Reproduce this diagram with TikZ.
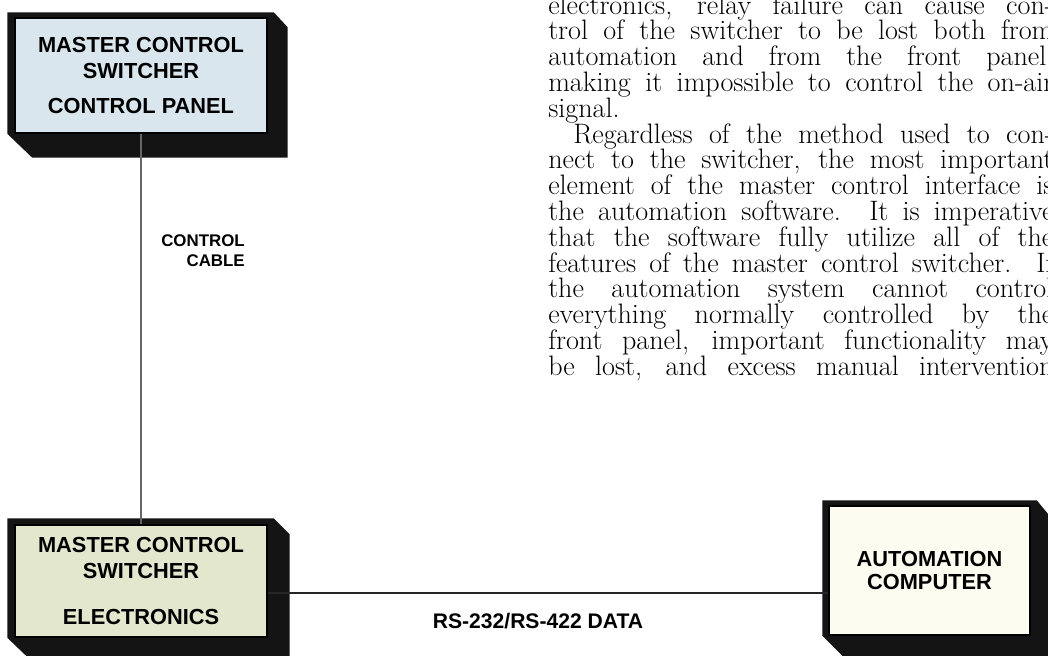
\documentclass[tikz,border=0pt]{standalone}
\usepackage{fontspec}
\newfontfamily\labelfont{Liberation Sans}
\usetikzlibrary{calc, backgrounds}

\begin{document}
\begin{tikzpicture}[x=0.025cm, y=-0.025cm]
      % Styles
      \tikzset{
        facebox/.style={draw=black, line width=1pt, minimum width=6.3cm, inner sep=0pt, align=center,
          font=\labelfont\bfseries\fontsize{15.5}{18.5}\selectfont},
        slab/.style={fill=black!92},
        cable/.style={draw=black!75, line width=1.1pt},
        cablelabel/.style={inner sep=0pt, font=\labelfont\bfseries\fontsize{12}{14}\selectfont},
        bodytext/.style={anchor=north west, inner sep=0pt, align=left,
          font=\fontsize{20}{18.35}\selectfont},
      }
      \useasboundingbox (0,0) rectangle (1048,656);
      % Boxes
      \node (panel) [facebox, fill={rgb,255:red,217;green,230;blue,237}, minimum height=2.875cm] at (141,75.5)
        {MASTER CONTROL\\SWITCHER\\[7pt]CONTROL PANEL};
      \node (elec) [facebox, fill={rgb,255:red,226;green,231;blue,206}, minimum height=2.8cm] at (141,581)
        {MASTER CONTROL\\SWITCHER\\[14pt]ELECTRONICS};
      \node (auto) [facebox, fill={rgb,255:red,252;green,252;blue,240}, minimum width=5.025cm, minimum height=3.225cm,
        font=\labelfont\bfseries\fontsize{15.5}{16.5}\selectfont] at (929.5,570.5)
        {AUTOMATION\\COMPUTER};
      % Box depth
      \begin{pgfonlayer}{background}
        \fill[white] (0,0) rectangle (1048,656);
        \fill[slab] ($(panel.north west)+(-7,-5)$) -- ($(panel.north east)+(6,-5)$) -- ($(panel.north east)+(20,10)$)
          -- ($(panel.south east)+(20,24)$) -- ($(panel.south west)+(18,24)$) -- ($(panel.south west)+(-7,0)$) -- cycle;
        \fill[slab] ($(elec.north west)+(-7,-6)$) -- ($(elec.north east)+(6,-6)$) -- ($(elec.north east)+(22,10)$)
          -- ($(elec.south east)+(22,24)$) -- ($(elec.south west)+(18,24)$) -- ($(elec.south west)+(-7,0)$) -- cycle;
        \fill[slab] ($(auto.north west)+(-6,-5)$) -- ($(auto.north east)+(6,-5)$) -- ($(auto.north east)+(20,12)$)
          -- ($(auto.south east)+(20,24)$) -- ($(auto.south west)+(18,24)$) -- ($(auto.south west)+(-6,0)$) -- cycle;
      \end{pgfonlayer}
      % Connectors
      \draw[cable, draw=black!60, line width=1pt] (panel.south) -- (elec.north);
      \coordinate (dataL) at ([yshift=-0.3cm]elec.east);
      \draw[cable, draw=black!85, line width=1.3pt] (dataL) -- (dataL -| auto.west);
      % Labels
      \node (cablelbl) [cablelabel, align=right, anchor=east] at (245,251) {CONTROL\\CABLE};
      \node (datalbl) [cablelabel, font=\labelfont\bfseries\fontsize{15}{15}\selectfont] at (538,621) {RS-232/RS-422 DATA};
      % Running text
      \node (body) [bodytext] at (548,-6) {%
        \makebox[12.625cm][s]{electronics, relay failure can cause con-}\\
        \makebox[12.625cm][s]{trol of the switcher to be lost both from}\\
        \makebox[12.625cm][s]{automation and from the front panel,}\\
        \makebox[12.625cm][s]{making it impossible to control the on-air}\\
        signal.\\
        \makebox[12.625cm][s]{\hspace*{0.625cm}Regardless of the method used to con-}\\
        \makebox[12.625cm][s]{nect to the switcher, the most important}\\
        \makebox[12.625cm][s]{element of the master control interface is}\\
        \makebox[12.625cm][s]{the automation software. It is imperative}\\
        \makebox[12.625cm][s]{that the software fully utilize all of the}\\
        \makebox[12.625cm][s]{features of the master control switcher. If}\\
        \makebox[12.625cm][s]{the automation system cannot control}\\
        \makebox[12.625cm][s]{everything normally controlled by the}\\
        \makebox[12.625cm][s]{front panel, important functionality may}\\
        \makebox[12.625cm][s]{be lost, and excess manual intervention}};
\end{tikzpicture}
\end{document}
